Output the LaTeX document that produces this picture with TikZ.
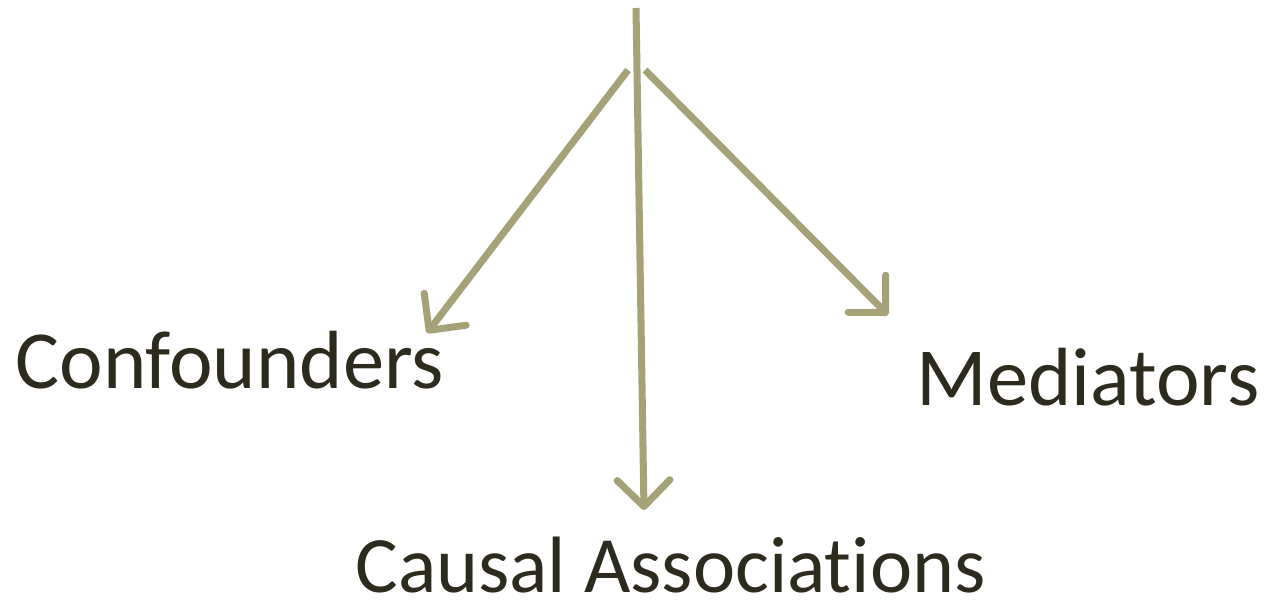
\documentclass[tikz,border=0pt]{standalone}
\usepackage{fontspec}
\setmainfont{Carlito}[Ligatures=NoCommon]
\usetikzlibrary{arrows.meta}
\definecolor{olive}{RGB}{164,162,118}
\definecolor{ink}{RGB}{45,42,30}
\begin{document}
\begin{tikzpicture}
[x=0.02cm, y=-0.02cm,
 nodes={inner sep=0pt, anchor=base west, text=ink, font=\fontsize{47}{56}\selectfont},
 >={Straight Barb[length=15pt, width=30pt, round]}, line width=4pt, draw=olive]
\useasboundingbox (0,0) rectangle (1267,603);
\node (Conf) at (12,388) {Confounders};
\node (Med) at (913,405) {Mediators};
\node (Causal) at (352,592) [font=\fontsize{45.5}{54}\selectfont] {Causal Associations};

\coordinate (top) at (636,8);
\coordinate (fork L) at (628,70);
\coordinate (fork R) at (645,70);
\coordinate (tip C) at (644,510);
\coordinate (tip L) at (427,333);
\coordinate (tip R) at (888,315);
\draw[->, olive] (top) -- (tip C);
\draw[->, olive] (fork L) -- (tip L);
\draw[->, olive] (fork R) -- (tip R);
\end{tikzpicture}
\end{document}
